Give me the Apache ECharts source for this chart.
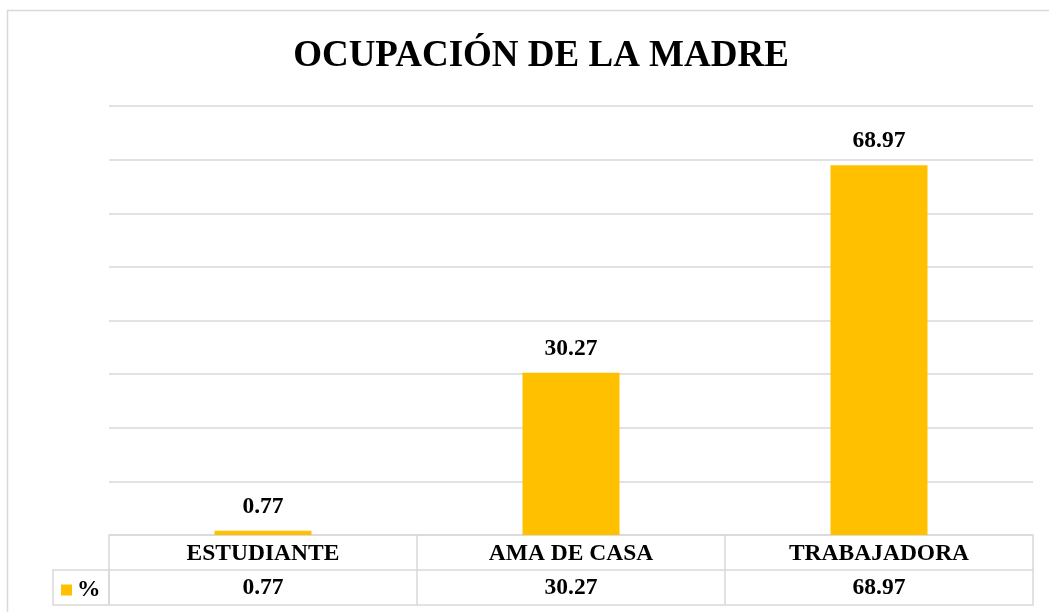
<!DOCTYPE html>
<html>
<head>
<meta charset="utf-8">
<script src="https://cdn.jsdelivr.net/npm/echarts@6/dist/echarts.min.js"></script>
<style>
  html, body { margin: 0; padding: 0; background: #fff; }
  #chart { width: 1049px; height: 612px; }
</style>
</head>
<body>
<div id="chart"></div>
<script>
// datos del gráfico
const categories = ['ESTUDIANTE', 'AMA DE CASA', 'TRABAJADORA'];
const values = [0.77, 30.27, 68.97];
const seriesName = '%';

const lineColor = '#d9d9d9';
const font = "'Liberation Serif', 'Times New Roman', serif";
const fs = 23.5;

const chart = echarts.init(document.getElementById('chart'));
chart.setOption({
    animation: false,
    title: {
        text: 'OCUPACIÓN DE LA MADRE',
        left: 536,
        top: 33,
        textAlign: 'center',
        textStyle: { fontFamily: font, fontSize: 37, fontWeight: 'bold', color: '#000' }
    },
    legend: {
        left: 56,
        top: 573,
        itemWidth: 11,
        itemHeight: 11,
        itemGap: 0,
        icon: 'rect',
        data: [seriesName],
        textStyle: { fontFamily: font, fontSize: fs, fontWeight: 'bold', color: '#000', padding: [0, 0, 0, 0] }
    },
    grid: { left: 109, right: 16, top: 106, bottom: 77 },
    xAxis: [
        {
            type: 'category',
            data: categories,
            position: 'bottom',
            axisLine: { lineStyle: { color: lineColor, width: 1.5 } },
            axisTick: { show: true, length: 70, lineStyle: { color: lineColor, width: 1.5 } },
            axisLabel: { margin: 6.5, fontFamily: font, fontSize: fs, fontWeight: 'bold', color: '#000' }
        },
        {
            type: 'category',
            data: categories,
            position: 'bottom',
            offset: 35,
            axisLine: { lineStyle: { color: lineColor, width: 1.5 } },
            axisTick: { show: false },
            axisLabel: {
                margin: 6, fontFamily: font, fontSize: fs, fontWeight: 'bold', color: '#000',
                formatter: (v, i) => values[i].toFixed(2)
            }
        },
        {
            type: 'category',
            data: categories,
            position: 'bottom',
            offset: 70,
            axisLine: { lineStyle: { color: lineColor, width: 1.5 } },
            axisTick: { show: false },
            axisLabel: { show: false }
        }
    ],
    yAxis: {
        type: 'value',
        min: 0,
        max: 80,
        interval: 10,
        axisLine: { show: false },
        axisTick: { show: false },
        axisLabel: { show: false },
        splitLine: { lineStyle: { color: lineColor, width: 1.5 } }
    },
    graphic: [
        {
            type: 'rect',
            shape: { x: 7.5, y: 10.5, width: 1100, height: 700 },
            style: { fill: 'none', stroke: lineColor, lineWidth: 1.5 },
            silent: true
        },
        {
            type: 'rect',
            shape: { x: 53, y: 570, width: 56, height: 35 },
            style: { fill: 'none', stroke: lineColor, lineWidth: 1.5 },
            silent: true
        }
    ],
    series: [
        {
            name: seriesName,
            type: 'bar',
            data: values,
            barWidth: '31.5%',
            itemStyle: { color: '#ffc000' },
            label: {
                show: true,
                position: 'top',
                distance: 12,
                formatter: p => p.value.toFixed(2),
                fontFamily: font,
                fontSize: fs,
                fontWeight: 'bold',
                color: '#000'
            }
        }
    ]
});
</script>
</body>
</html>
